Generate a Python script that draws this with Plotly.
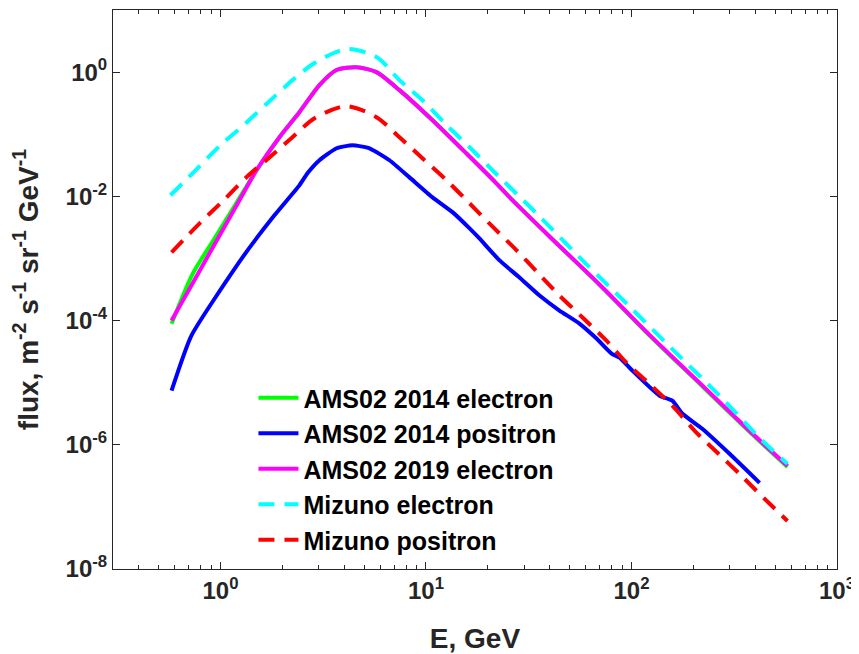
import plotly.graph_objects as go

# AMS02 2019 electron
e_ams19 = [0.578, 0.731, 0.935, 1.183, 1.497, 1.937, 2.42, 3.03, 3.67, 4.59, 5.74, 7.43,
           10.76, 15.7, 22.0, 26.4, 39.9, 69.9, 122, 214, 375, 574]
f_ams19 = [1.0e-4, 3.95e-4, 1.68e-3, 6.65e-3, 2.63e-2, 8.95e-2, 0.226, 0.617, 1.08, 1.20, 1.0, 0.513,
           0.168, 0.0494, 0.0162, 8.61e-3, 2.26e-3, 3.81e-4, 5.94e-5, 1.0e-5, 1.68e-6, 4.58e-7]

# AMS02 2014 electron
e_ams14e = [0.578, 0.731, 0.935, 1.183, 1.497, 1.937, 2.42, 3.03, 3.67, 4.59, 5.74, 7.43,
            10.76, 15.7, 22.0, 26.4, 39.9, 69.9, 122, 214, 375, 574]
f_ams14e = [8.9e-5, 5.6e-4, 2.1e-3, 7.4e-3, 2.63e-2, 8.95e-2, 0.226, 0.617, 1.08, 1.20, 1.0, 0.513,
            0.168, 0.0494, 0.0162, 8.61e-3, 2.26e-3, 3.75e-4, 5.8e-5, 9.7e-6, 1.62e-6, 4.4e-7]

# AMS02 2014 positron
e_ams14p = [0.578, 0.722, 1.28, 1.83, 2.42, 2.65, 3.03, 3.67, 4.39, 5.31, 6.64, 8.31, 10.76, 13.5,
            16.3, 18.2, 22.8, 28.5, 35.7, 44.6, 55.8, 67.6, 80.0, 87.5, 101, 137, 158, 177, 221,
            300, 420]
f_ams14p = [7.43e-6, 5.73e-5, 1.04e-3, 4.94e-3, 0.0150, 0.0235, 0.0381, 0.0594, 0.0665, 0.0594,
            0.0381, 0.0202, 9.64e-3, 5.52e-3, 3.05e-3, 2.10e-3, 9.29e-4, 4.94e-4, 2.53e-4, 1.45e-4,
            8.95e-5, 5.13e-5, 2.94e-5, 2.53e-5, 1.56e-5, 6.17e-6, 5.13e-6, 3.16e-6, 1.81e-6,
            7.16e-7, 2.44e-7]

# Mizuno electron
e_miz_e = [0.571, 0.731, 1.0, 1.31, 1.69, 2.24, 2.87, 4.10, 5.74, 7.43, 9.61, 12.6, 16.3, 21.1,
           34.5, 57.8, 94.6, 157, 268, 434, 574]
f_miz_e = [0.0104, 0.0235, 0.0665, 0.145, 0.316, 0.743, 1.40, 2.35, 1.75, 0.743, 0.353, 0.140,
           0.0617, 0.0262, 5.32e-3, 9.29e-4, 1.88e-4, 3.53e-5, 6.17e-6, 1.16e-6, 4.94e-7]

# Mizuno positron
e_miz_p = [0.578, 0.791, 1.011, 1.353, 1.713, 2.24, 2.87, 4.10, 5.74, 7.43, 9.61, 12.6, 16.3, 20.8,
           27.6, 34.9, 44.6, 57.8, 75.5, 95.6, 122, 158, 203, 262, 343, 444, 574]
f_miz_p = [1.25e-3, 3.67e-3, 8.0e-3, 0.0210, 0.0410, 0.0895, 0.181, 0.283, 0.188, 0.0895, 0.0410,
           0.0181, 7.71e-3, 3.40e-3, 1.35e-3, 5.94e-4, 2.53e-4, 1.12e-4, 4.75e-5, 2.02e-5, 9.64e-6,
           4.26e-6, 1.68e-6, 7.43e-7, 3.16e-7, 1.35e-7, 5.94e-8]

x_tickvals = [1, 10, 100, 1000]
x_ticktext = ["10<sup>0</sup>", "10<sup>1</sup>", "10<sup>2</sup>", "10<sup>3</sup>"]
y_tickvals = [1e-8, 1e-6, 1e-4, 1e-2, 1]
y_ticktext = ["10<sup>-8</sup>", "10<sup>-6</sup>", "10<sup>-4</sup>", "10<sup>-2</sup>", "10<sup>0</sup>"]
x_minor = [0.3, 0.4, 0.5, 0.6, 0.7, 0.8, 0.9] + [m * 10 ** k for k in range(0, 3) for m in range(2, 10)]

FONT = "Liberation Sans, Arial, sans-serif"
AXC = "#262626"

fig = go.Figure()
fig.add_trace(go.Scatter(x=e_ams14e, y=f_ams14e, mode="lines", name="AMS02 2014 electron",
                         line=dict(color="#00FF00", width=4, shape="spline", smoothing=0.7)))
fig.add_trace(go.Scatter(x=e_ams14p, y=f_ams14p, mode="lines", name="AMS02 2014 positron",
                         line=dict(color="#0000FF", width=4, shape="spline", smoothing=0.5)))
fig.add_trace(go.Scatter(x=e_ams19, y=f_ams19, mode="lines", name="AMS02 2019 electron",
                         line=dict(color="#FF00FF", width=4, shape="spline", smoothing=0.7)))
fig.add_trace(go.Scatter(x=e_miz_e, y=f_miz_e, mode="lines", name="Mizuno electron",
                         line=dict(color="#00FFFF", width=4, dash="16px,10px", shape="spline", smoothing=0.8)))
fig.add_trace(go.Scatter(x=e_miz_p, y=f_miz_p, mode="lines", name="Mizuno positron",
                         line=dict(color="#FF0000", width=4, dash="16px,10px", shape="spline", smoothing=0.8)))

axis_common = dict(type="log", showgrid=False, zeroline=False, showline=True, linecolor=AXC,
                   linewidth=1, mirror="ticks", ticks="inside", ticklen=7, tickcolor=AXC,
                   automargin=False,
                   tickfont=dict(family=FONT, size=24, color=AXC, weight="bold"))

fig.update_xaxes(**axis_common, range=[-0.523, 3], tickvals=x_tickvals, ticktext=x_ticktext,
                 minor=dict(ticks="inside", ticklen=4, tickcolor=AXC, tickvals=x_minor),
                 title=dict(text="E, GeV", font=dict(family=FONT, size=28, color=AXC, weight="bold"),
                            standoff=28))
fig.update_yaxes(**axis_common, range=[-8, 1], tickvals=y_tickvals, ticktext=y_ticktext,
                 title=dict(text="flux, m<sup>-2</sup> s<sup>-1</sup> sr<sup>-1</sup> GeV<sup>-1</sup>",
                            font=dict(family=FONT, size=28, color=AXC, weight="bold"), standoff=20))

fig.update_layout(
    width=851, height=646,
    margin=dict(l=105, r=22, t=2, b=85, autoexpand=False),
    plot_bgcolor="white", paper_bgcolor="white",
    legend=dict(x=0.194, y=0.347, xanchor="left", yanchor="top", bgcolor="rgba(255,255,255,0)",
                font=dict(family=FONT, size=25, color="black", weight="bold"),
                tracegroupgap=0, itemwidth=40),
)

fig.write_html("out.html")
